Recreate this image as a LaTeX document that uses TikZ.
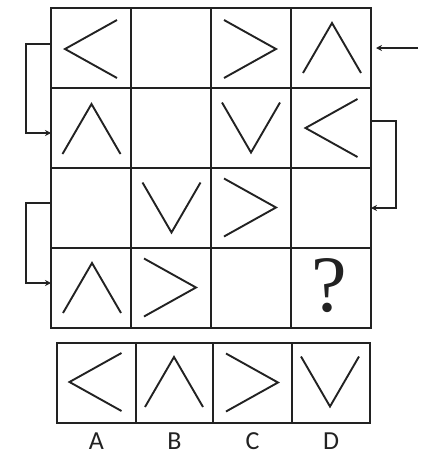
\documentclass[tikz,border=0pt]{standalone}
\usepackage{fontspec}
\setmainfont{Liberation Serif}
\newfontfamily\labfont{Carlito}
\usetikzlibrary{arrows.meta}
\definecolor{ink}{HTML}{222222}
\begin{document}
\begin{tikzpicture}[x=1pt,y=-1pt,
 cell/.style={draw=ink,line width=2pt,minimum width=80pt,minimum height=80pt,inner sep=0pt,outer sep=0pt},
 opt/.style={cell,minimum width=#1},
 glyph/.style={draw=ink,line width=1.9pt,line join=miter},
 conn/.style={draw=ink,line width=1.5pt,-{Stealth[length=6pt,width=6pt]}},
 lab/.style={font=\labfont\fontsize{26}{26}\selectfont,text=ink,inner sep=0pt},
 pics/lt/.style={code={\draw[glyph] (26,-29) -- (-26,0) -- (26,29);}},
 pics/gt/.style={code={\draw[glyph] (-26,-29) -- (26,0) -- (-26,29);}},
 pics/up/.style={code={\draw[glyph] (-29,25) -- (0,-25) -- (29,25);}},
 pics/dn/.style={code={\draw[glyph] (-29,-25) -- (0,25) -- (29,-25);}}
]
\useasboundingbox (0,0) rectangle (430,469);
% grid cells
\foreach \r in {1,...,4}{
  \foreach \c in {1,...,4}{
    \node[cell] (c\r\c) at ({91+80*(\c-1)},{48+80*(\r-1)}) {};
  }
}
% option cells
\node[opt=79pt] (oA) at (96.5,383) {};
\node[opt=77pt] (oB) at (174.5,383) {};
\node[opt=79pt] (oC) at (252.5,383) {};
\node[opt=78pt] (oD) at (331,383) {};
% grid figures
\pic at (91,49) {lt};
\pic at (250,49) {gt};
\pic at (332,48) {up};
\pic at (91.5,129) {up};
\pic at (251,127.5) {dn};
\pic at (331.5,128) {lt};
\pic at (171.5,207.5) {dn};
\pic at (250,207.5) {gt};
\pic at (92,288) {up};
\pic at (170,287.5) {gt};
\node[font=\fontsize{80}{80}\selectfont,text=ink,inner sep=0pt] (q) at (329,285.5) {?};
% option figures
\pic at (95.5,382) {lt};
\pic at (174,382) {up};
\pic at (252,382.5) {gt};
\pic at (330,381.5) {dn};
% labels
\node[lab] (lA) at ([yshift=-18.5pt]oA.south) {A};
\node[lab] (lB) at ([yshift=-18.5pt]oB.south) {B};
\node[lab] (lC) at ([yshift=-18.5pt]oC.south) {C};
\node[lab] (lD) at ([yshift=-18.5pt]oD.south) {D};
% connectors
\draw[conn] ([yshift=4pt]c11.west) -- ++(-25,0) |- ([yshift=-5pt]c21.west);
\draw[conn] ([yshift=5pt]c31.west) -- ++(-25,0) |- ([yshift=5pt]c41.west);
\coordinate (in1) at (418,48);
\draw[conn,shorten >=5pt] (in1) -- (c14.east);
\draw[conn] ([yshift=7pt]c24.east) -- ++(25,0) |- (c34.east);
\end{tikzpicture}
\end{document}
